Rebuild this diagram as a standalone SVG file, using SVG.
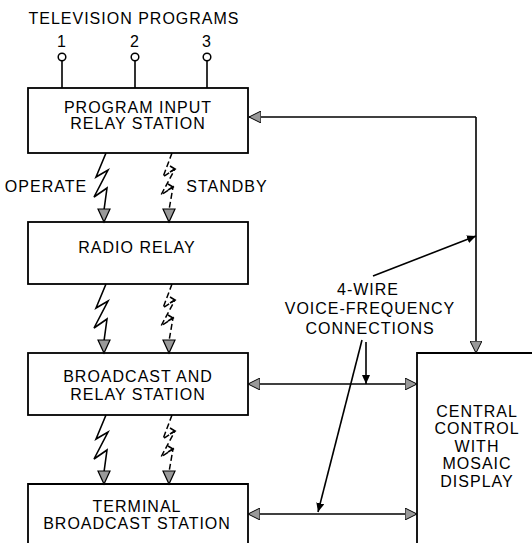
<svg xmlns="http://www.w3.org/2000/svg" width="532" height="543" viewBox="0 0 532 543">
<style>
.box{fill:#fff;stroke:#000;stroke-width:1.8}
.t{font-family:"Liberation Sans",Arial,sans-serif;font-size:16px;letter-spacing:1px;fill:#000;text-anchor:middle}
.ln{fill:none;stroke:#000;stroke-width:1.6}
.bolt{fill:none;stroke:#000;stroke-width:1.6;stroke-linejoin:miter}
.dash{fill:none;stroke:#000;stroke-width:1.5;stroke-dasharray:6 3}
.ah{fill:#999;stroke:#000;stroke-width:1.2}
</style>
<defs>
<marker id="arr" markerWidth="14" markerHeight="12" refX="12" refY="6" orient="auto" markerUnits="userSpaceOnUse">
<path d="M0,0 L12,6 L0,12 Z" fill="#999" stroke="#000" stroke-width="1"/>
</marker>
<marker id="arrs" markerWidth="10" markerHeight="8" refX="9" refY="4" orient="auto" markerUnits="userSpaceOnUse">
<path d="M0,0 L9,4 L0,8 Z" fill="#000"/>
</marker>
<g id="boltpair">
<path class="bolt" d="M106,153 L96,177 L108,170 L94,197 L107,188 L104,210"/>
<path class="ah" d="M98,209 L110,209 L104,222 Z"/>
<path class="dash" d="M172,153 L163,177 L175,169 L161,195 L173,187 L169,210"/>
<path class="ln" stroke-width="1.2" d="M170,166 L175,169 L170,172 M168,184 L173,187 L168,190"/>
<path class="ah" d="M163,209 L175,209 L169,222 Z"/>
</g>
</defs>

<text class="t" x="134" y="24">TELEVISION PROGRAMS</text>

<g id="pins">
<text class="t" x="62" y="47">1</text>
<text class="t" x="135" y="47">2</text>
<text class="t" x="207" y="47">3</text>
<circle cx="62" cy="57" r="3.8" fill="#fff" stroke="#000" stroke-width="1.5"/>
<circle cx="135" cy="57" r="3.8" fill="#fff" stroke="#000" stroke-width="1.5"/>
<circle cx="207" cy="57" r="3.8" fill="#fff" stroke="#000" stroke-width="1.5"/>
<path class="ln" d="M62,61 V88 M135,61 V88 M207,61 V88"/>
</g>

<g id="program-input">
<rect class="box" x="28" y="88" width="220" height="65"/>
<text class="t" x="138" y="113">PROGRAM INPUT</text>
<text class="t" x="138" y="129">RELAY STATION</text>
</g>

<g id="radio-relay">
<rect class="box" x="28" y="222" width="220" height="62"/>
<text class="t" x="137" y="253">RADIO RELAY</text>
</g>

<g id="broadcast-relay">
<rect class="box" x="28" y="353" width="220" height="62"/>
<text class="t" x="138" y="382">BROADCAST AND</text>
<text class="t" x="138" y="400">RELAY STATION</text>
</g>

<g id="terminal">
<path class="box" d="M28,548 V484 H248 V548"/>
<text class="t" x="137" y="512">TERMINAL</text>
<text class="t" x="137" y="529">BROADCAST STATION</text>
</g>

<g id="central">
<path class="box" d="M417,548 V353 H540"/>
<text class="t" x="477" y="417">CENTRAL</text>
<text class="t" x="477" y="434">CONTROL</text>
<text class="t" x="477" y="452">WITH</text>
<text class="t" x="477" y="469">MOSAIC</text>
<text class="t" x="477" y="487">DISPLAY</text>
</g>

<g id="labels">
<text class="t" x="46" y="192">OPERATE</text>
<text class="t" x="227" y="192">STANDBY</text>
<text class="t" x="368" y="295">4-WIRE</text>
<text class="t" x="370" y="314">VOICE-FREQUENCY</text>
<text class="t" x="370" y="334">CONNECTIONS</text>
</g>

<g id="connectors">
<use href="#boltpair"/>
<use href="#boltpair" transform="translate(0,131)"/>
<use href="#boltpair" transform="translate(0,262)"/>
<path class="ln" d="M476,117 H249" marker-end="url(#arr)"/>
<path class="ln" d="M476,117 V353" marker-end="url(#arr)"/>
<path class="ln" d="M373,276 L476,236" marker-end="url(#arrs)"/>
<path class="ln" d="M332,384 H248" marker-end="url(#arr)"/>
<path class="ln" d="M332,384 H417" marker-end="url(#arr)"/>
<path class="ln" d="M366,342 V384" marker-end="url(#arrs)"/>
<path class="ln" stroke-width="1.3" d="M362,340 L318,512" marker-end="url(#arrs)"/>
<path class="ln" d="M332,514 H248" marker-end="url(#arr)"/>
<path class="ln" d="M332,514 H417" marker-end="url(#arr)"/>
</g>
</svg>
